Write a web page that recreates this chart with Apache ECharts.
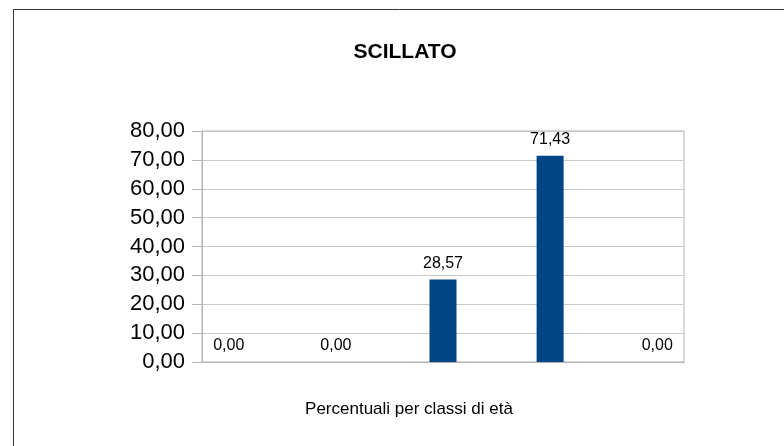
<!DOCTYPE html>
<html>
<head>
<meta charset="utf-8">
<script src="https://cdn.jsdelivr.net/npm/echarts@6/dist/echarts.min.js"></script>
<style>
  html, body { margin: 0; padding: 0; background: #fff; }
  #chart { width: 784px; height: 446px; }
</style>
</head>
<body>
<div id="chart"></div>
<script>
// chart data
const categories = ['0-18', '19-35', '36-50', '51-65', 'oltre 65']
const values = [0, 0, 28.57, 71.43, 0]
const yTicks = [0, 10, 20, 30, 40, 50, 60, 70, 80]

const fmt = v => Number(v).toFixed(2).replace('.', ',')

// categories sit on a numeric axis so the side padding matches the original (quarter slot each side)
const barData = categories.map((c, i) => [i, values[i]])

const chart = echarts.init(document.getElementById('chart'))
chart.setOption({
  backgroundColor: '#fff',
  textStyle: { fontFamily: 'Liberation Sans, Arial, sans-serif' },
  title: [
    {
      text: 'SCILLATO',
      left: 400, top: 37,
      textAlign: 'center',
      textStyle: { fontSize: 21, fontWeight: 'bold', color: '#000', fontFamily: 'Liberation Sans' }
    },
    {
      text: 'Percentuali per classi di età',
      left: 404, top: 396,
      textAlign: 'center',
      textStyle: { fontSize: 17, fontWeight: 'normal', color: '#000', fontFamily: 'Liberation Sans' }
    }
  ],
  graphic: [{
    type: 'rect',
    shape: { x: 13.5, y: 9.5, width: 900, height: 600 },
    style: { fill: 'none', stroke: '#333', lineWidth: 1 },
    silent: true
  }],
  grid: {
    left: 202, right: 100, top: 131, bottom: 84,
    show: true, borderColor: '#b3b3b3', borderWidth: 1
  },
  xAxis: {
    type: 'value',
    min: -0.25, max: categories.length - 0.75,
    axisLine: { show: true, onZero: false, lineStyle: { color: '#b3b3b3' } },
    axisTick: { show: false },
    axisLabel: { show: false },
    splitLine: { show: false }
  },
  yAxis: {
    type: 'value',
    min: yTicks[0], max: yTicks[yTicks.length - 1], interval: 10,
    axisLine: { show: true, onZero: false, lineStyle: { color: '#b3b3b3' } },
    axisTick: { show: true, length: 10, lineStyle: { color: '#b3b3b3' } },
    splitLine: { lineStyle: { color: '#c8c8c8' } },
    axisLabel: {
      formatter: fmt, fontSize: 22, color: '#000', margin: 17,
      fontFamily: 'Liberation Sans'
    }
  },
  series: [{
    type: 'bar',
    data: barData,
    barWidth: 27,
    itemStyle: { color: '#004586' },
    label: {
      show: true, position: 'top', distance: 8,
      formatter: p => fmt(p.value[1]),
      fontSize: 16, color: '#000', fontFamily: 'Liberation Sans'
    }
  }]
})
</script>
</body>
</html>
